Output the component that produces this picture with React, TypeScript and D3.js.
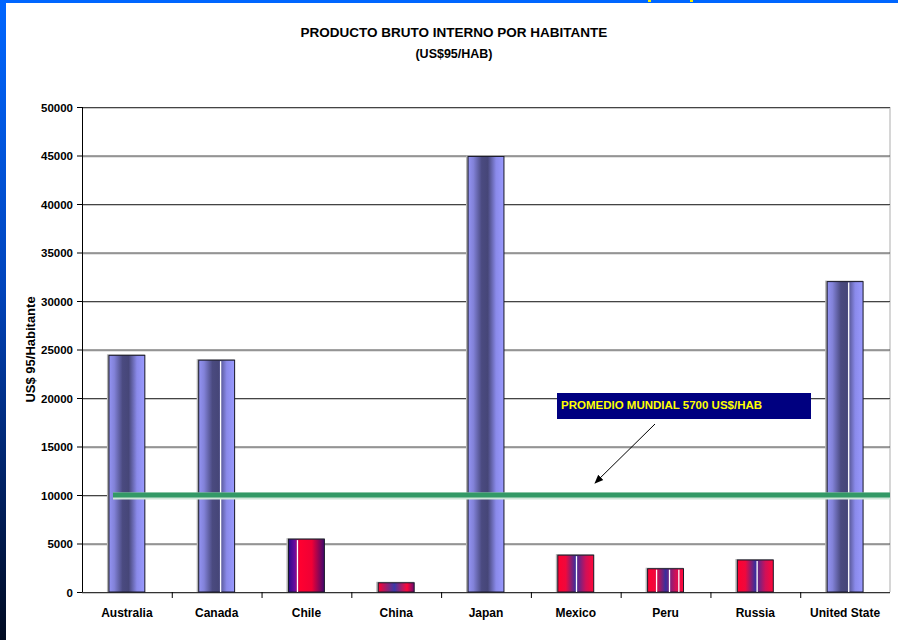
import React from "react";
import * as d3 from "d3";

// GDP per capita (US$ of 1995 per inhabitant)
const categories = ["Australia", "Canada", "Chile", "China", "Japan", "Mexico", "Peru", "Russia", "United State"];
const values = [24400, 23900, 5450, 950, 44900, 3800, 2400, 3300, 32000];
const groups = ["high", "high", "low", "low", "high", "low", "low", "low", "high"];
const yTicks = [0, 5000, 10000, 15000, 20000, 25000, 30000, 35000, 40000, 45000, 50000];
const referenceLevel = 10000;
const referenceLabel = "PROMEDIO MUNDIAL 5700 US$/HAB";
// thin light streaks across some bars (fraction of bar width)
const streaks: number[][] = [[], [0.61], [0.25], [], [], [0.52], [0.25, 0.61, 0.87], [0.55], [0.6]];

const W = 898;
const H = 640;
const plot = { left: 82, right: 890, top: 107, bottom: 592 };
const font = "'Liberation Sans', Arial, sans-serif";

export default function App() {
  const x = d3
    .scaleBand<string>()
    .domain(categories)
    .range([plot.left, plot.right])
    .paddingInner(0.6)
    .paddingOuter(0.3);
  const y = d3.scaleLinear().domain([0, 50000]).range([plot.bottom, plot.top]);
  const step = x.step();

  const fillFor = (i: number) => {
    if (groups[i] === "high") return "url(#gBlue)";
    if (categories[i] === "Chile") return "url(#gChile)";
    if (categories[i] === "China") return "url(#gChina)";
    return "url(#gRed)";
  };

  return (
    <svg width={W} height={H} style={{ position: "absolute", left: 0, top: 0 }} fontFamily={font}>
      <defs>
        <linearGradient id="gSide" x1="0" y1="0" x2="0" y2="1">
          <stop offset="0%" stopColor="#0066ff" />
          <stop offset="45%" stopColor="#0044bb" />
          <stop offset="75%" stopColor="#002266" />
          <stop offset="100%" stopColor="#000a20" />
        </linearGradient>
        <linearGradient id="gBlue" x1="0" y1="0" x2="1" y2="0">
          <stop offset="0%" stopColor="#9494f4" />
          <stop offset="15%" stopColor="#8282d8" />
          <stop offset="38%" stopColor="#4a4a80" />
          <stop offset="55%" stopColor="#464678" />
          <stop offset="78%" stopColor="#8a8aea" />
          <stop offset="100%" stopColor="#9a9aff" />
        </linearGradient>
        <linearGradient id="gRed" x1="0" y1="0" x2="1" y2="0">
          <stop offset="0%" stopColor="#ff0030" />
          <stop offset="22%" stopColor="#f0083c" />
          <stop offset="50%" stopColor="#3a2e9c" />
          <stop offset="78%" stopColor="#d01058" />
          <stop offset="100%" stopColor="#ff0838" />
        </linearGradient>
        <linearGradient id="gChile" x1="0" y1="0" x2="1" y2="0">
          <stop offset="0%" stopColor="#2a0a8a" />
          <stop offset="18%" stopColor="#6a0aa0" />
          <stop offset="32%" stopColor="#ff0030" />
          <stop offset="65%" stopColor="#f00035" />
          <stop offset="100%" stopColor="#40086e" />
        </linearGradient>
        <linearGradient id="gChina" x1="0" y1="0" x2="1" y2="0">
          <stop offset="0%" stopColor="#ff0030" />
          <stop offset="45%" stopColor="#3a3aa8" />
          <stop offset="80%" stopColor="#ff0838" />
          <stop offset="100%" stopColor="#6a0870" />
        </linearGradient>
        <marker id="arrow" viewBox="0 0 10 10" refX="9" refY="5" markerWidth="9" markerHeight="9" orient="auto">
          <path d="M0,1 L10,5 L0,9 z" fill="#000" />
        </marker>
      </defs>

      <rect x={0} y={0} width={W} height={H} fill="#fff" />
      {/* frame */}
      <rect x={0} y={0} width={W} height={3} fill="#0066ff" />
      <rect x={0} y={0} width={6} height={H} fill="url(#gSide)" />
      <rect x={648} y={0} width={3} height={2} fill="#ffee00" />
      <rect x={690} y={0} width={3} height={2} fill="#ffee00" />

      {/* title */}
      <text x={454} y={37} textAnchor="middle" fontSize={13.5} fontWeight="bold">
        PRODUCTO BRUTO INTERNO POR HABITANTE
      </text>
      <text x={454} y={58} textAnchor="middle" fontSize={12.5} fontWeight="bold">
        (US$95/HAB)
      </text>

      {/* plot frame */}
      <line x1={plot.right} x2={plot.right} y1={plot.top} y2={plot.bottom} stroke="#c8c8c8" strokeWidth={1.5} />

      {/* gridlines */}
      {yTicks.map((t) => (
        <g key={t}>
          <line x1={plot.left} x2={plot.right} y1={y(t) + 1.5} y2={y(t) + 1.5} stroke="#c8c8c8" strokeWidth={1} />
          <line x1={plot.left} x2={plot.right} y1={y(t) + 0.5} y2={y(t) + 0.5} stroke={t === 0 ? "#333" : "#444"} strokeWidth={1} />
          <line x1={plot.left - 5} x2={plot.left} y1={y(t) + 0.5} y2={y(t) + 0.5} stroke="#000" />
          <text x={plot.left - 9} y={y(t) + 4.5} textAnchor="end" fontSize={11.5} fontWeight="bold">
            {t}
          </text>
        </g>
      ))}

      {/* y axis */}
      <line x1={plot.left + 0.5} x2={plot.left + 0.5} y1={plot.top} y2={plot.bottom} stroke="#000" />
      <text
        transform={`translate(35,${(plot.top + plot.bottom) / 2}) rotate(-90)`}
        textAnchor="middle"
        fontSize={13}
        fontWeight="bold"
      >
        US$ 95/Habitante
      </text>

      {/* x ticks & labels */}
      {categories.map((c, i) => (
        <g key={c}>
          {i > 0 && (
            <line
              x1={plot.left + step * i + 0.5}
              x2={plot.left + step * i + 0.5}
              y1={plot.bottom}
              y2={plot.bottom + 6}
              stroke="#000"
            />
          )}
          <text x={(x(c) ?? 0) + x.bandwidth() / 2} y={617} textAnchor="middle" fontSize={12} fontWeight="bold">
            {c}
          </text>
        </g>
      ))}

      {/* bars */}
      {categories.map((c, i) => {
        const bx = x(c) ?? 0;
        const bw = x.bandwidth();
        const top = y(values[i]);
        const h = y(0) - top;
        return (
          <g key={c}>
            <rect x={bx - 2} y={top - 1} width={bw + 2} height={h + 1} fill="#b4b4b4" />
            <rect x={bx} y={top} width={bw} height={h} fill={fillFor(i)} stroke="#1a1a2a" strokeWidth={1} />
            {streaks[i].map((f, k) => (
              <line
                key={k}
                x1={bx + bw * f}
                x2={bx + bw * f}
                y1={top + 1}
                y2={y(0)}
                stroke="#fff"
                strokeWidth={1.3}
              />
            ))}
          </g>
        );
      })}

      {/* reference level */}
      <line x1={113} x2={plot.right} y1={y(referenceLevel) + 1} y2={y(referenceLevel) + 1} stroke="#cfe6d8" strokeWidth={7} />
      <line x1={113} x2={plot.right} y1={y(referenceLevel)} y2={y(referenceLevel)} stroke="#339966" strokeWidth={5} />

      {/* annotation */}
      <rect x={557} y={393} width={254} height={26} fill="#000080" />
      <text x={561} y={409} fontSize={11.5} fontWeight="bold" fill="#ffff00">
        {referenceLabel}
      </text>
      <line x1={655} y1={424} x2={595} y2={483} stroke="#000" strokeWidth={1} markerEnd="url(#arrow)" />
    </svg>
  );
}
